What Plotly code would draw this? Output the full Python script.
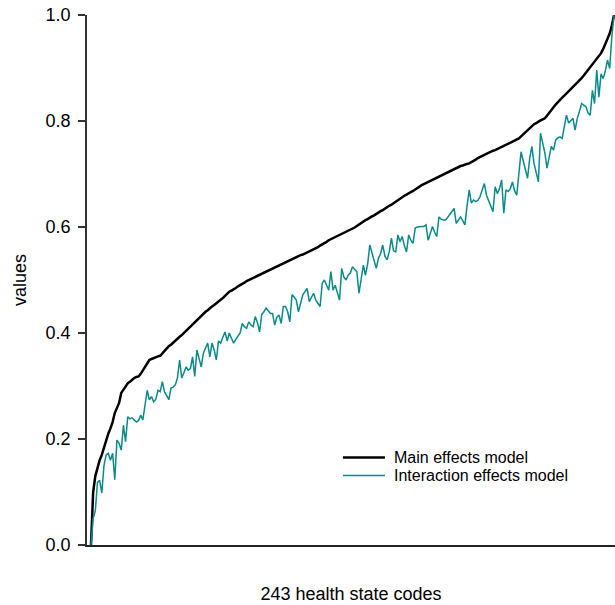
import plotly.graph_objects as go

# 243 health states, ordered by main-effects value
state_index = list(range(1, 244))

main_effects = [
    0.000, 0.100, 0.130, 0.148, 0.160, 0.170, 0.185, 0.200, 0.210, 0.220,
    0.232, 0.249, 0.258, 0.268, 0.287, 0.293, 0.300, 0.305, 0.308, 0.312,
    0.315, 0.317, 0.318, 0.323, 0.330, 0.336, 0.342, 0.349, 0.351, 0.353,
    0.355, 0.356, 0.357, 0.362, 0.367, 0.371, 0.375, 0.378, 0.382, 0.386,
    0.390, 0.393, 0.396, 0.400, 0.404, 0.408, 0.413, 0.417, 0.421, 0.425,
    0.429, 0.432, 0.436, 0.440, 0.443, 0.447, 0.450, 0.453, 0.456, 0.459,
    0.462, 0.466, 0.470, 0.474, 0.478, 0.480, 0.482, 0.485, 0.488, 0.490,
    0.493, 0.495, 0.498, 0.500, 0.502, 0.503, 0.505, 0.507, 0.509, 0.511,
    0.513, 0.515, 0.517, 0.519, 0.521, 0.523, 0.525, 0.527, 0.529, 0.531,
    0.534, 0.536, 0.538, 0.540, 0.542, 0.544, 0.545, 0.547, 0.548, 0.550,
    0.551, 0.553, 0.555, 0.558, 0.560, 0.562, 0.565, 0.567, 0.570, 0.572,
    0.575, 0.577, 0.579, 0.581, 0.583, 0.585, 0.587, 0.588, 0.590, 0.592,
    0.594, 0.597, 0.599, 0.602, 0.605, 0.607, 0.610, 0.613, 0.615, 0.618,
    0.620, 0.622, 0.625, 0.627, 0.630, 0.632, 0.635, 0.637, 0.640, 0.642,
    0.645, 0.648, 0.650, 0.653, 0.656, 0.659, 0.661, 0.664, 0.666, 0.668,
    0.671, 0.673, 0.676, 0.679, 0.681, 0.683, 0.685, 0.687, 0.689, 0.691,
    0.693, 0.695, 0.697, 0.699, 0.701, 0.703, 0.706, 0.708, 0.710, 0.712,
    0.713, 0.715, 0.716, 0.718, 0.719, 0.720, 0.722, 0.725, 0.727, 0.730,
    0.732, 0.734, 0.737, 0.739, 0.741, 0.742, 0.744, 0.745, 0.747, 0.749,
    0.752, 0.754, 0.755, 0.757, 0.759, 0.761, 0.763, 0.765, 0.767, 0.771,
    0.775, 0.779, 0.783, 0.787, 0.791, 0.794, 0.796, 0.799, 0.801, 0.803,
    0.805, 0.810, 0.816, 0.821, 0.826, 0.831, 0.836, 0.840, 0.844, 0.848,
    0.852, 0.856, 0.860, 0.864, 0.868, 0.872, 0.877, 0.881, 0.886, 0.891,
    0.896, 0.901, 0.907, 0.912, 0.917, 0.922, 0.928, 0.936, 0.945, 0.953,
    0.965, 0.980, 1.000,
]

interaction_effects = [
    0.000, 0.050, 0.065, 0.118, 0.122, 0.098, 0.150, 0.170, 0.173, 0.160,
    0.173, 0.123, 0.198, 0.192, 0.179, 0.226, 0.195, 0.242, 0.238, 0.240,
    0.236, 0.232, 0.235, 0.245, 0.236, 0.262, 0.292, 0.274, 0.280, 0.270,
    0.275, 0.292, 0.289, 0.308, 0.289, 0.282, 0.274, 0.296, 0.298, 0.302,
    0.315, 0.349, 0.315, 0.325, 0.336, 0.330, 0.333, 0.355, 0.318, 0.368,
    0.350, 0.336, 0.362, 0.372, 0.381, 0.355, 0.381, 0.368, 0.349, 0.385,
    0.381, 0.392, 0.402, 0.385, 0.400, 0.390, 0.381, 0.388, 0.393, 0.400,
    0.418, 0.412, 0.409, 0.421, 0.415, 0.412, 0.431, 0.420, 0.402, 0.435,
    0.440, 0.447, 0.442, 0.437, 0.437, 0.415, 0.430, 0.434, 0.418, 0.450,
    0.450, 0.440, 0.421, 0.472, 0.468, 0.462, 0.440, 0.458, 0.472, 0.478,
    0.484, 0.459, 0.468, 0.475, 0.462, 0.455, 0.450, 0.494, 0.500, 0.490,
    0.481, 0.516, 0.481, 0.490, 0.476, 0.462, 0.522, 0.506, 0.500, 0.509,
    0.513, 0.525, 0.520, 0.516, 0.475, 0.505, 0.528, 0.509, 0.530, 0.566,
    0.550, 0.535, 0.522, 0.541, 0.550, 0.566, 0.545, 0.538, 0.553, 0.579,
    0.555, 0.553, 0.585, 0.572, 0.582, 0.565, 0.553, 0.585, 0.575, 0.569,
    0.598, 0.600, 0.601, 0.601, 0.601, 0.604, 0.575, 0.590, 0.601, 0.590,
    0.582, 0.619, 0.615, 0.613, 0.613, 0.618, 0.623, 0.628, 0.635, 0.607,
    0.612, 0.619, 0.612, 0.604, 0.640, 0.670, 0.645, 0.651, 0.648, 0.650,
    0.657, 0.668, 0.682, 0.660, 0.650, 0.638, 0.629, 0.676, 0.663, 0.672,
    0.689, 0.626, 0.670, 0.667, 0.672, 0.685, 0.668, 0.660, 0.700, 0.742,
    0.725, 0.705, 0.692, 0.730, 0.752, 0.720, 0.700, 0.685, 0.777, 0.760,
    0.740, 0.711, 0.735, 0.752, 0.745, 0.764, 0.768, 0.770, 0.767, 0.790,
    0.811, 0.796, 0.800, 0.805, 0.783, 0.805, 0.818, 0.833, 0.830, 0.827,
    0.815, 0.811, 0.858, 0.833, 0.896, 0.845, 0.889, 0.880, 0.895, 0.915,
    0.899, 0.960, 1.000,
]

y_ticks = [0.0, 0.2, 0.4, 0.6, 0.8, 1.0]
y_tick_labels = ["0.0", "0.2", "0.4", "0.6", "0.8", "1.0"]

series_names = ["Main effects model", "Interaction effects model"]
series_colors = ["#000000", "#0b8a8a"]
series_widths = [2.5, 1.5]

FONT = "Liberation Sans, Arial, sans-serif"

fig = go.Figure()
for name, values, color, width in zip(
    series_names, [main_effects, interaction_effects], series_colors, series_widths
):
    fig.add_trace(go.Scatter(
        x=state_index, y=values, mode="lines", name=name,
        line=dict(color=color, width=width), cliponaxis=False,
        showlegend=False,
    ))

# legend drawn as keys + labels (paper coordinates)
legend_x0, legend_x1, legend_text_x = 0.4848, 0.5644, 0.5777
legend_rows_y = [0.1651, 0.1311]
for name, color, width, ly in zip(series_names, series_colors, series_widths, legend_rows_y):
    fig.add_shape(
        type="line", xref="paper", yref="paper",
        x0=legend_x0, x1=legend_x1, y0=ly, y1=ly,
        line=dict(color=color, width=width),
    )
    fig.add_annotation(
        xref="paper", yref="paper", x=legend_text_x, y=ly,
        xanchor="left", yanchor="middle", text=name, showarrow=False,
        font=dict(family=FONT, size=16, color="#000000"),
    )

fig.update_layout(
    width=615, height=605,
    margin=dict(l=87, r=0, t=15, b=60, pad=0),
    paper_bgcolor="white", plot_bgcolor="white",
    font=dict(family=FONT, size=18, color="#000000"),
    showlegend=False,
    xaxis=dict(
        range=[-0.85, 243.46], showgrid=False, zeroline=False,
        showticklabels=False, ticks="",
        showline=True, linecolor="#222222", linewidth=1.5,
        title=dict(text="243 health state codes", standoff=42,
                   font=dict(family=FONT, size=18)),
    ),
    yaxis=dict(
        range=[0, 1], showgrid=False, zeroline=False,
        tickvals=y_ticks, ticktext=y_tick_labels,
        ticks="outside", ticklen=7, tickwidth=1.5, tickcolor="#333333",
        showline=True, linecolor="#333333", linewidth=1.5,
        ticklabelstandoff=4,
        tickfont=dict(family=FONT, size=18),
        title=dict(text="values", standoff=14, font=dict(family=FONT, size=18)),
    ),
)

fig.write_html(
    "out.html",
    config={"displayModeBar": False},
    post_script="document.body.style.margin='0';document.body.style.padding='0';",
)
